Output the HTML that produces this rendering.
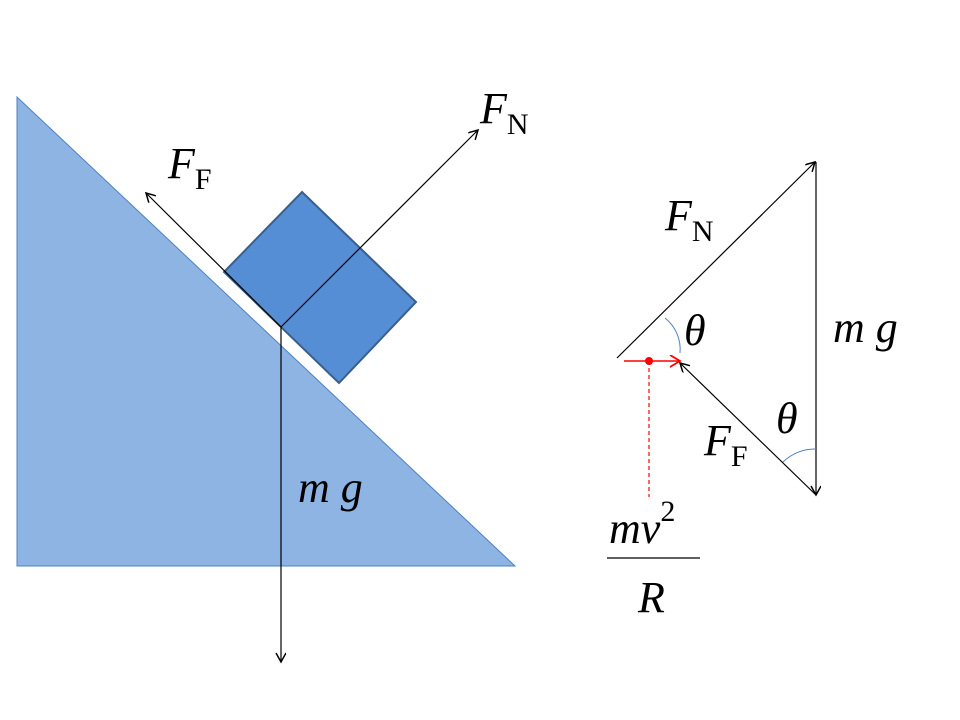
<!DOCTYPE html>
<html><head><style>body{margin:0;background:#fff}svg{display:block}text{font-family:"Liberation Serif",serif}</style></head><body>
<svg width="960" height="720" viewBox="0 0 960 720">
<defs>
<marker id="a" markerWidth="12" markerHeight="12" refX="10" refY="5" orient="auto" markerUnits="userSpaceOnUse"><path d="M1,0 L10,5 L1,10" fill="none" stroke="#000" stroke-width="1.5"/></marker>
<marker id="r" markerWidth="14" markerHeight="14" refX="11" refY="6" orient="auto" markerUnits="userSpaceOnUse"><path d="M1,0 L11,6 L1,12" fill="none" stroke="red" stroke-width="1.8"/></marker>
</defs>
<polygon points="17,97 17,566 515,566" fill="#8eb4e3" stroke="#4f81bd" stroke-width="1"/>
<polygon points="302,192 416,302 339,383 224,272" fill="#558ed5" stroke="#3a5f8b" stroke-width="2"/>
<g stroke="#000" stroke-width="1.2" fill="none">
<line x1="281" y1="327" x2="146" y2="193" marker-end="url(#a)"/>
<line x1="281" y1="327" x2="478" y2="130" marker-end="url(#a)"/>
<line x1="281" y1="327" x2="281" y2="662" marker-end="url(#a)"/>
<line x1="617" y1="358" x2="815" y2="162" marker-end="url(#a)"/>
<line x1="816" y1="162" x2="816" y2="495" marker-end="url(#a)"/>
<line x1="816" y1="495" x2="680" y2="363" marker-end="url(#a)"/>
<line x1="607" y1="558" x2="700" y2="558"/>
</g>
<path d="M665,318 A40,40 0 0 1 680,353" stroke="#4f81bd" fill="none" stroke-width="1"/>
<path d="M783,462 A46,46 0 0 1 816,449" stroke="#4f81bd" fill="none" stroke-width="1"/>
<line x1="624" y1="361" x2="680" y2="361" stroke="red" stroke-width="1.5" marker-end="url(#r)"/>
<circle cx="649" cy="361" r="4" fill="red"/>
<line x1="649" y1="361" x2="649" y2="497" stroke="red" stroke-width="1.2" stroke-dasharray="4,3"/>
<g font-size="44" font-style="italic">
<text x="480" y="123">F<tspan font-style="normal" font-size="30" dy="11">N</tspan></text>
<text x="168" y="178">F<tspan font-style="normal" font-size="30" dy="11">F</tspan></text>
<text x="298" y="502">m g</text>
<text x="665" y="230">F<tspan font-style="normal" font-size="30" dy="11">N</tspan></text>
<text x="833" y="342">m g</text>
<text x="684" y="345">θ</text>
<text x="776" y="433">θ</text>
<text x="704" y="455">F<tspan font-style="normal" font-size="30" dy="11">F</tspan></text>
<text x="609" y="543">mv<tspan font-style="normal" font-size="30" dy="-22">2</tspan></text>
<text x="638" y="612">R</text>
</g>
</svg>
</body></html>
